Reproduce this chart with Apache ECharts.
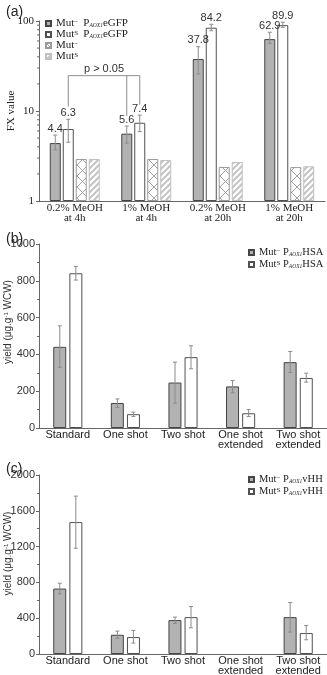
<!DOCTYPE html>
<html><head><meta charset="utf-8">
<script src="https://cdn.jsdelivr.net/npm/echarts@6/dist/echarts.min.js"></script>
<style>html,body{margin:0;padding:0;background:#fff}#c{width:327px;height:675px}</style>
</head><body><div id="c"></div>
<script>
// ---------- DATA ----------
// Panel (a)
var catsA = ['0.2% MeOH\nat 4h', '1% MeOH\nat 4h', '0.2% MeOH\nat 20h', '1% MeOH\nat 20h'];
var fxMutMinus = [4.4, 5.6, 37.8, 62.9];
var fxMutMinusLow = [3.7, 4.4, 25.8, 56.5];
var fxMutMinusHigh = [5.4, 6.8, 51.8, 75];
var fxMutS = [6.3, 7.4, 84.2, 89.9];
var fxMutSLow = [4.5, 5.9, 78, 85];
var fxMutSHigh = [8.1, 9.0, 92, 97];
var fxCtrlMinus = [2.93, 2.93, 2.39, 2.38];
var fxCtrlS = [2.93, 2.85, 2.71, 2.43];
var minorTicksA = [2,3,4,5,6,7,8,9,20,30,40,50,60,70,80,90];
var bracketCats = [0, 1, 1];
var bracketSeries = [1, 0, 1];
var bracketDrops = [11.2, 8.8, 11.7];
var bracketTop = 24.7;
var bracketText = 'p > 0.05';
// Panel (b)
var catsB = ['Standard', 'One shot', 'Two shot', 'One shot\nextended', 'Two shot\nextended'];
var hsaMutMinus = [441, 136, 247, 226, 358];
var hsaMutMinusLow = [330, 111, 135, 191, 302];
var hsaMutMinusHigh = [555, 158, 358, 258, 416];
var hsaMutS = [841, 75, 385, 80, 272];
var hsaMutSLow = [804, 62, 322, 62, 249];
var hsaMutSHigh = [878, 86, 447, 100, 298];
// Panel (c)
var catsC = ['Standard', 'One shot', 'Two shot', 'One shot\nextended', 'Two shot\nextended'];
var vhhMutMinus = [731, 215, 379, null, 412];
var vhhMutMinusLow = [672, 174, 341, null, 245];
var vhhMutMinusHigh = [791, 256, 412, null, 575];
var vhhMutS = [1474, 189, 412, null, 234];
var vhhMutSLow = [1181, 122, 293, null, 159];
var vhhMutSHigh = [1764, 263, 530, null, 319];

// ---------- STYLE ----------
var SERIF = 'Liberation Serif';
var SANS = 'Liberation Sans';
var GREY = '#b2b2b2';

function makePattern(kind) {
  var cv = document.createElement('canvas');
  if (kind === 'cross') {
    cv.width = 11; cv.height = 11;
    var g = cv.getContext('2d');
    g.fillStyle = '#fff'; g.fillRect(0, 0, 11, 11);
    g.strokeStyle = '#8a8a8a'; g.lineWidth = 0.8;
    g.beginPath(); g.moveTo(0, 0); g.lineTo(11, 11); g.moveTo(11, 0); g.lineTo(0, 11); g.stroke();
  } else {
    cv.width = 6; cv.height = 6;
    var h = cv.getContext('2d');
    h.fillStyle = '#fff'; h.fillRect(0, 0, 6, 6);
    h.strokeStyle = '#c4c4c4'; h.lineWidth = 2;
    h.beginPath();
    h.moveTo(-1, 7); h.lineTo(7, -1);
    h.moveTo(-4, 4); h.lineTo(4, -4);
    h.moveTo(2, 10); h.lineTo(10, 2);
    h.stroke();
  }
  return { image: cv, repeat: 'repeat' };
}

function errSeries(grid, vals, lo, hi, offset, withLabel) {
  var data = [];
  for (var i = 0; i < vals.length; i++) {
    if (vals[i] == null) continue;
    data.push([i, lo[i], hi[i], vals[i]]);
  }
  return {
    type: 'custom', xAxisIndex: grid, yAxisIndex: grid, z: 5, silent: true,
    data: data, encode: { x: 0, y: [1, 2] },
    renderItem: function (params, api) {
      var c = api.value(0);
      var pL = api.coord([c, api.value(1)]);
      var pH = api.coord([c, api.value(2)]);
      var x = pL[0] + offset;
      var st = { stroke: '#8c8c8c', lineWidth: 1 };
      var ch = [
        { type: 'line', shape: { x1: x, y1: pH[1], x2: x, y2: pL[1] }, style: st },
        { type: 'line', shape: { x1: x - 2, y1: pH[1], x2: x + 2, y2: pH[1] }, style: st },
        { type: 'line', shape: { x1: x - 2, y1: pL[1], x2: x + 2, y2: pL[1] }, style: st }
      ];
      if (withLabel) {
        ch.push({ type: 'text', style: { text: String(api.value(3)), x: x, y: pH[1] - 1,
          align: 'center', verticalAlign: 'bottom', fill: '#333', font: '11px ' + SANS } });
      }
      return { type: 'group', children: ch };
    }
  };
}

var STEP_A = 13;
function offA(i) { return (i - 1.5) * STEP_A; }

function richLegend(fs) {
  return {
    m: { fontFamily: SERIF, fontSize: fs, color: '#222', lineHeight: 10 },
    sup: { fontFamily: SERIF, fontSize: 7, color: '#222', lineHeight: 10, verticalAlign: 'top' },
    supw: { fontFamily: SERIF, fontSize: 7, color: '#222', lineHeight: 10, verticalAlign: 'top', width: 9 },
    sub: { fontFamily: SERIF, fontSize: 5.5, fontStyle: 'italic', color: '#222', lineHeight: 10, verticalAlign: 'bottom' }
  };
}
var legendText = {
  'a1': '{m|Mut}{supw|−}{m|P}{sub|AOX1}{m|eGFP}',
  'a2': '{m|Mut}{supw|S}{m|P}{sub|AOX1}{m|eGFP}',
  'a3': '{m|Mut}{sup|−}',
  'a4': '{m|Mut}{sup|S}',
  'b1': '{m|Mut}{sup|−} {m|P}{sub|AOX1}{m|HSA}',
  'b2': '{m|Mut}{sup|S} {m|P}{sub|AOX1}{m|HSA}',
  'c1': '{m|Mut}{sup|−} {m|P}{sub|AOX1}{m|vHH}',
  'c2': '{m|Mut}{sup|S} {m|P}{sub|AOX1}{m|vHH}'
};
function legendFmt(n) { return legendText[n]; }
function legendCfg(names, left, top, fs, gap) {
  return { data: names, left: left, top: top, orient: 'vertical', icon: 'rect', padding: 0,
    itemWidth: 5, itemHeight: 5, itemGap: gap, selectedMode: false, formatter: legendFmt,
    textStyle: { fontFamily: SERIF, fontSize: fs, color: '#222', lineHeight: 10, rich: richLegend(fs) } };
}

var axisLine = { lineStyle: { color: '#666', width: 1 } };
function catAxis(grid, cats, font) {
  return { type: 'category', gridIndex: grid, data: cats, axisLine: axisLine, axisTick: { show: false },
    axisLabel: { interval: 0, margin: 2, fontFamily: font, fontSize: 11, color: '#222', lineHeight: 10 } };
}
function valAxis(grid, max, interval, shift) {
  return { type: 'value', gridIndex: grid, min: 0, max: max, interval: interval,
    axisLine: { show: true, lineStyle: { color: '#666' } },
    axisTick: { show: true, length: 3, lineStyle: { color: '#666' } },
    minorTick: { show: true, splitNumber: 2, length: 2, lineStyle: { color: '#666' } },
    splitLine: { show: false },
    axisLabel: { margin: 4, fontFamily: SANS, fontSize: 11, color: '#333', formatter: function (v) { return String(v); } },
    name: 'yield (μg.g{s|-1} WCW)', nameLocation: 'middle', nameGap: 26, nameMoveOverlap: false,
    nameTextStyle: { fontFamily: SANS, fontSize: 10, color: '#333', padding: [0, 0, 0, shift],
      rich: { s: { fontFamily: SANS, fontSize: 6, verticalAlign: 'top' } } } };
}

var grey = { color: GREY, borderColor: '#454545', borderWidth: 1 };
var white = { color: '#fff', borderColor: '#505050', borderWidth: 1 };
function gridCfg(top, width, height) {
  return { left: 39, top: top, width: width, height: height, containLabel: false, outerBoundsMode: 'none' };
}

var option = {
  animation: false,
  title: [
    { text: '(a)', left: 1, top: 0, textStyle: { fontFamily: SANS, fontSize: 14, fontWeight: 'normal', color: '#222' } },
    { text: '(b)', left: 1, top: 227, textStyle: { fontFamily: SANS, fontSize: 14, fontWeight: 'normal', color: '#222' } },
    { text: '(c)', left: 1, top: 457, textStyle: { fontFamily: SANS, fontSize: 14, fontWeight: 'normal', color: '#222' } }
  ],
  legend: [
    legendCfg(['a1', 'a2', 'a3', 'a4'], 45, 18, 11, 0),
    legendCfg(['b1', 'b2'], 248, 247, 10.5, 1),
    legendCfg(['c1', 'c2'], 248, 474, 10.5, 1)
  ],
  grid: [gridCfg(21, 286, 180), gridCfg(244, 288, 184), gridCfg(475, 288, 179)],
  xAxis: [catAxis(0, catsA, SERIF), catAxis(1, catsB, SANS), catAxis(2, catsC, SANS)],
  yAxis: [
    { type: 'log', gridIndex: 0, min: 1, max: 100, logBase: 10,
      axisLine: { show: true, lineStyle: { color: '#666' } },
      axisTick: { show: true, length: 3, lineStyle: { color: '#666' } },
      splitLine: { show: false },
      axisLabel: { margin: 5, fontFamily: SERIF, fontSize: 11, color: '#222', formatter: function (v) { return String(v); } },
      name: 'FX value', nameLocation: 'middle', nameGap: 22, nameMoveOverlap: false,
      nameTextStyle: { fontFamily: SERIF, fontSize: 11, color: '#222' } },
    valAxis(1, 1000, 200, 28),
    valAxis(2, 2000, 400, 22)
  ],
  series: [
    // panel a bars
    { type: 'bar', name: 'a1', xAxisIndex: 0, yAxisIndex: 0, data: fxMutMinus, barWidth: 11, barGap: '18%', itemStyle: grey },
    { type: 'bar', name: 'a2', xAxisIndex: 0, yAxisIndex: 0, data: fxMutS, barWidth: 11, barGap: '18%', itemStyle: white },
    { type: 'bar', name: 'a3', xAxisIndex: 0, yAxisIndex: 0, data: fxCtrlMinus, barWidth: 11, barGap: '18%',
      itemStyle: { color: makePattern('cross'), borderColor: '#9a9a9a', borderWidth: 1 } },
    { type: 'bar', name: 'a4', xAxisIndex: 0, yAxisIndex: 0, data: fxCtrlS, barWidth: 11, barGap: '18%',
      itemStyle: { color: makePattern('stripe'), borderColor: '#c0c0c0', borderWidth: 1 } },
    errSeries(0, fxMutMinus, fxMutMinusLow, fxMutMinusHigh, offA(0), true),
    errSeries(0, fxMutS, fxMutSLow, fxMutSHigh, offA(1), true),
    // log minor ticks
    { type: 'custom', xAxisIndex: 0, yAxisIndex: 0, silent: true,
      data: minorTicksA.map(function (v) { return [0, v]; }),
      renderItem: function (params, api) {
        var p = api.coord([0, api.value(1)]);
        var x0 = p[0] - api.size([1, 0])[0] / 2;
        return { type: 'line', shape: { x1: x0 - 2, y1: p[1], x2: x0, y2: p[1] }, style: { stroke: '#666', lineWidth: 1 } };
      } },
    // significance bracket
    { type: 'custom', xAxisIndex: 0, yAxisIndex: 0, silent: true, z: 6,
      data: [[0, bracketTop]],
      renderItem: function (params, api) {
        var pts = [];
        for (var i = 0; i < bracketCats.length; i++) {
          var top = api.coord([bracketCats[i], bracketTop]);
          var bot = api.coord([bracketCats[i], bracketDrops[i]]);
          pts.push([top[0] + offA(bracketSeries[i]), top[1], bot[1]]);
        }
        var st = { stroke: '#8c8c8c', lineWidth: 1 };
        var ch = [{ type: 'line', shape: { x1: pts[0][0], y1: pts[0][1], x2: pts[pts.length - 1][0], y2: pts[0][1] }, style: st }];
        pts.forEach(function (p) { ch.push({ type: 'line', shape: { x1: p[0], y1: p[1], x2: p[0], y2: p[2] }, style: st }); });
        ch.push({ type: 'text', style: { text: bracketText, x: (pts[0][0] + pts[pts.length - 1][0]) / 2, y: pts[0][1] - 1,
          align: 'center', verticalAlign: 'bottom', fill: '#333', font: '11px ' + SANS } });
        return { type: 'group', children: ch };
      } },
    // panel b
    { type: 'bar', name: 'b1', xAxisIndex: 1, yAxisIndex: 1, data: hsaMutMinus, barWidth: 13, barGap: '24%', itemStyle: grey },
    { type: 'bar', name: 'b2', xAxisIndex: 1, yAxisIndex: 1, data: hsaMutS, barWidth: 13, barGap: '24%', itemStyle: white },
    errSeries(1, hsaMutMinus, hsaMutMinusLow, hsaMutMinusHigh, -8, false),
    errSeries(1, hsaMutS, hsaMutSLow, hsaMutSHigh, 8, false),
    // panel c
    { type: 'bar', name: 'c1', xAxisIndex: 2, yAxisIndex: 2, data: vhhMutMinus, barWidth: 13, barGap: '24%', itemStyle: grey },
    { type: 'bar', name: 'c2', xAxisIndex: 2, yAxisIndex: 2, data: vhhMutS, barWidth: 13, barGap: '24%', itemStyle: white },
    errSeries(2, vhhMutMinus, vhhMutMinusLow, vhhMutMinusHigh, -8, false),
    errSeries(2, vhhMutS, vhhMutSLow, vhhMutSHigh, 8, false)
  ]
};
var chart = echarts.init(document.getElementById('c'), null, { renderer: 'canvas' });
chart.setOption(option);
</script>
</body></html>
